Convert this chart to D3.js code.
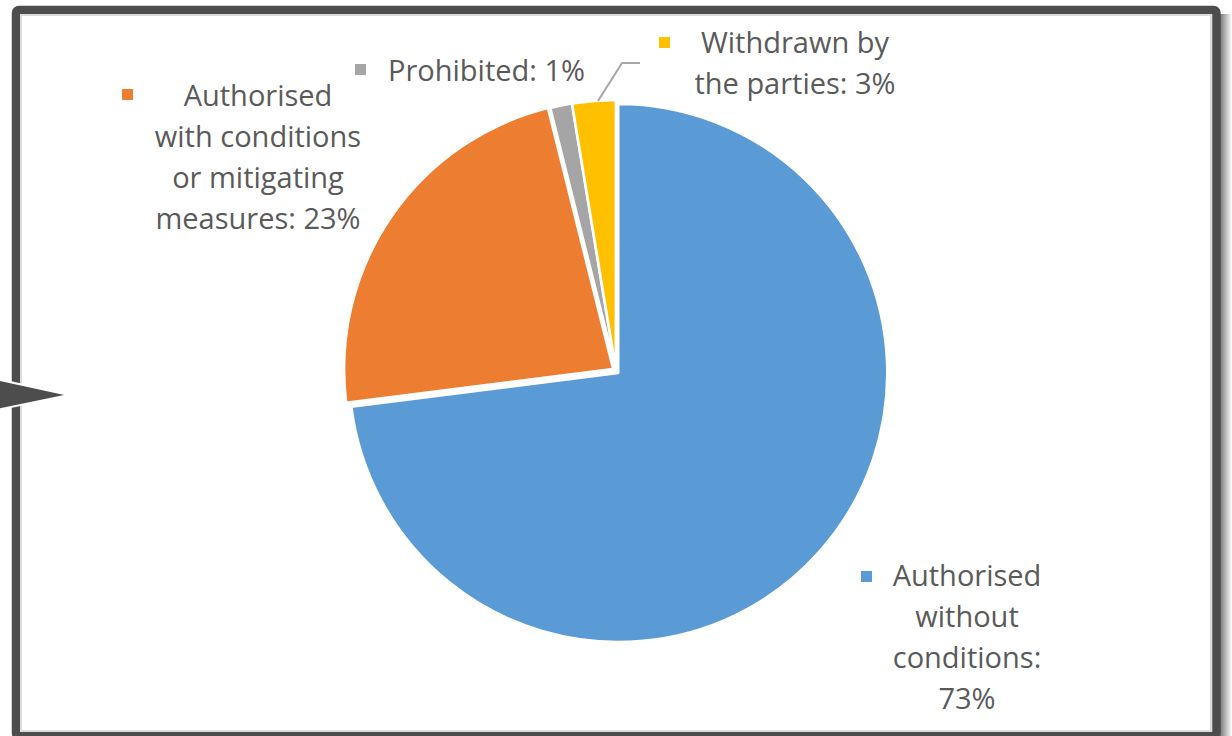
<!DOCTYPE html>
<html>
<head>
<meta charset="utf-8">
<script src="https://cdn.jsdelivr.net/npm/d3@7"></script>
<style>
  body { margin: 0; background: #fff; }
  svg { display: block; }
</style>
</head>
<body>
<script>
// Pie chart of merger decisions
const width = 1232;
const height = 736;

const categories = [
	'Authorised without conditions',
	'Authorised with conditions or mitigating measures',
	'Prohibited',
	'Withdrawn by the parties'
];
const values = [73.0, 23.1, 1.3, 2.6];
const labelLines = [
	['Authorised', 'without', 'conditions:', '73%'],
	['Authorised', 'with conditions', 'or mitigating', 'measures: 23%'],
	['Prohibited: 1%'],
	['Withdrawn by', 'the parties: 3%']
];
const colors = ['#5b9bd5', '#ed7d31', '#a5a5a5', '#ffc000'];

// layout only
const center = {x: 616, y: 371};
const radius = 269;
const explode = [3, 3.5, 2, 2];
const labelLayout = [
	{x: 967, y: 586, anchor: 'middle', mx: 861, my: 571},
	{x: 258, y: 106, anchor: 'middle', mx: 122, my: 89},
	{x: 388, y: 81, anchor: 'start', mx: 355, my: 64},
	{x: 795, y: 53, anchor: 'middle', mx: 659, my: 37}
];
const leader = [[598, 101], [622, 63], [640, 63]];

const svg = d3.select('body')
	.append('svg')
	.attr('width', width)
	.attr('height', height);

const defs = svg.append('defs');
const grad = defs.append('linearGradient').attr('id', 'shadow');
grad.append('stop').attr('offset', '0%').attr('stop-color', '#6e6e6e');
grad.append('stop').attr('offset', '100%').attr('stop-color', '#ffffff');

// frame
svg.append('rect')
	.attr('x', 1219).attr('y', 14)
	.attr('width', 13).attr('height', height)
	.attr('fill', 'url(#shadow)');
svg.append('rect')
	.attr('x', 16).attr('y', 10)
	.attr('width', 1200.5).attr('height', 726)
	.attr('rx', 3)
	.attr('fill', '#fff')
	.attr('stroke', '#4d4d4d')
	.attr('stroke-width', 8.5);
svg.append('rect')
	.attr('x', 21).attr('y', 15)
	.attr('width', 1190).attr('height', 716)
	.attr('fill', 'none')
	.attr('stroke', '#dcdcdc')
	.attr('stroke-width', 2);

// pointer arrow on the left edge
svg.append('path')
	.attr('d', d3.line()([[-4, 379], [69, 395], [-4, 410]]) + 'Z')
	.attr('fill', '#4d4d4d')
	.attr('stroke', '#fff')
	.attr('stroke-width', 2);

const pie = d3.pie().sort(null).value(d => d);
const arc = d3.arc().innerRadius(0).outerRadius(radius);
const arcs = pie(values);

svg.append('g')
	.attr('transform', `translate(${center.x}, ${center.y})`)
	.selectAll('path')
	.data(arcs)
	.join('path')
	.attr('transform', (d, i) => {
		const a = (d.startAngle + d.endAngle) / 2;
		return `translate(${Math.sin(a) * explode[i]}, ${-Math.cos(a) * explode[i]})`;
	})
	.attr('d', arc)
	.attr('fill', (d, i) => colors[i])
	.attr('stroke', '#fff')
	.attr('stroke-width', 2.5)
	.attr('stroke-linejoin', 'round');

// leader line for the withdrawn slice
svg.append('path')
	.attr('d', d3.line()(leader))
	.attr('fill', 'none')
	.attr('stroke', '#a6a6a6')
	.attr('stroke-width', 2);

// labels
const labels = svg.append('g')
	.style('font-family', '"Open Sans", sans-serif')
	.style('font-size', '29px')
	.attr('fill', '#5a5a5a');

labelLines.forEach((lines, i) => {
	const L = labelLayout[i];
	labels.append('rect')
		.attr('x', L.mx).attr('y', L.my)
		.attr('width', 11).attr('height', 11)
		.attr('fill', colors[i]);
	const t = labels.append('text')
		.attr('text-anchor', L.anchor);
	lines.forEach((s, j) => {
		t.append('tspan')
			.attr('x', L.x)
			.attr('y', L.y + j * 41)
			.text(s);
	});
});
</script>
</body>
</html>
